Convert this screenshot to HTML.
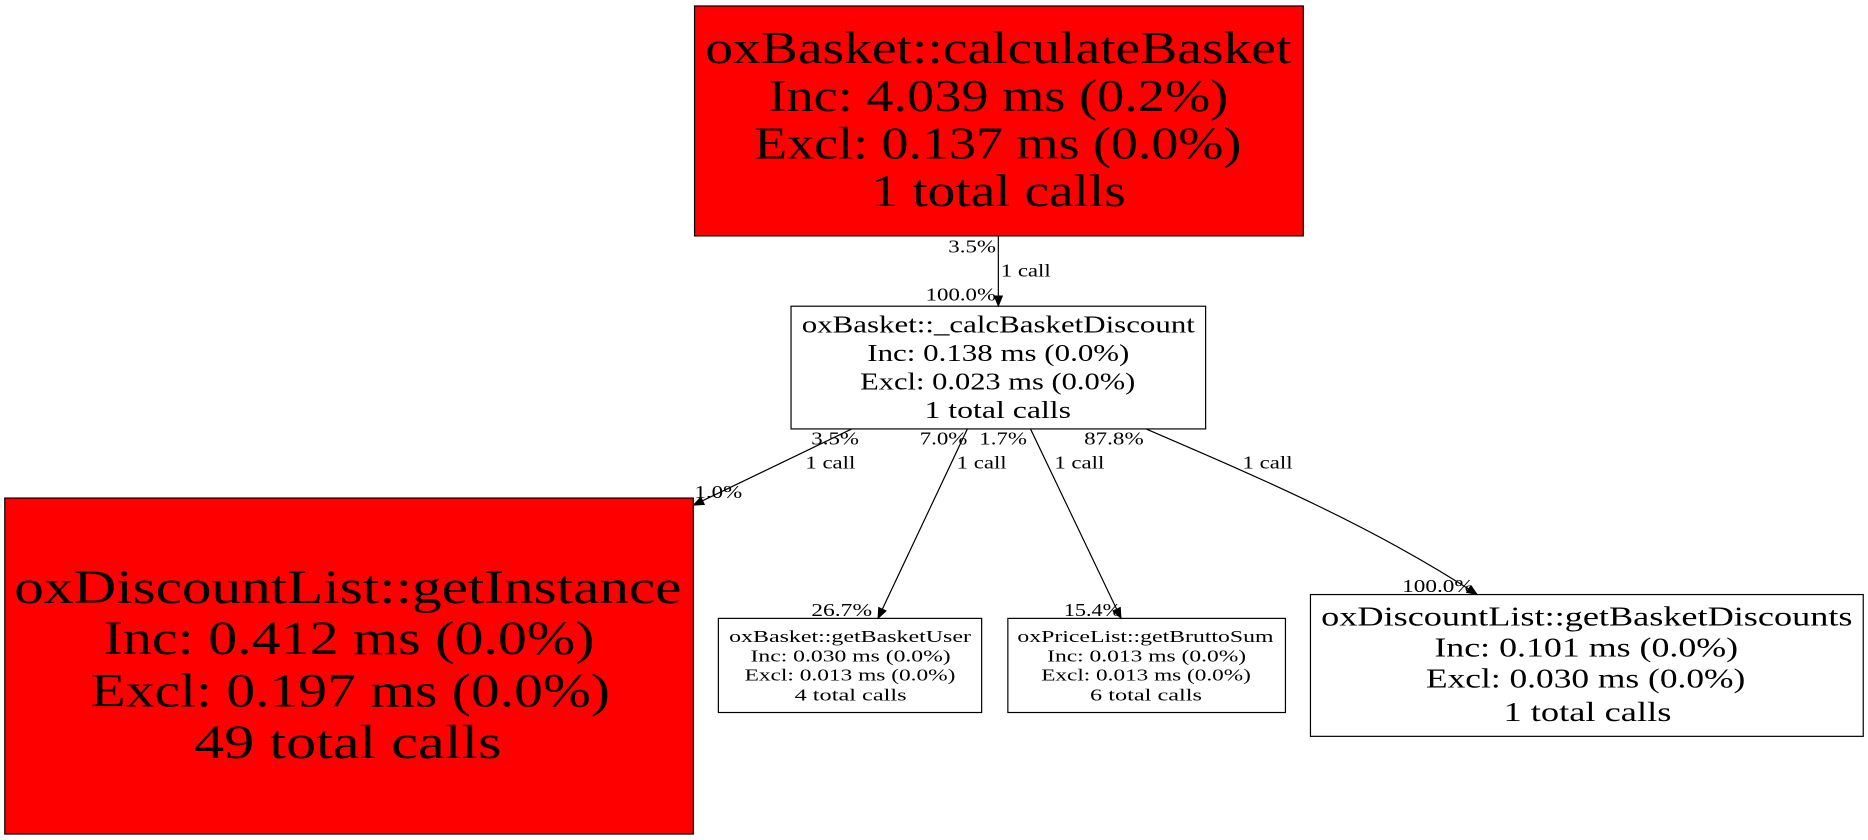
<!DOCTYPE html>
<html><head><meta charset="utf-8"><style>
html,body{margin:0;padding:0;background:#fff;width:1868px;height:840px;overflow:hidden}
svg{display:block}
text{font-family:"Liberation Serif",serif;fill:#000}
</style></head><body>
<svg width="1868" height="840" viewBox="0 0 1568 705" preserveAspectRatio="none">
<defs><marker id="a" markerWidth="10" markerHeight="8" refX="9" refY="4" orient="auto" markerUnits="userSpaceOnUse"><path d="M0,0 L10,4 L0,8 z" fill="#000"/></marker></defs>
<g lengthAdjust="spacingAndGlyphs">
<rect x="583" y="5" width="511" height="193" fill="#ff0000" stroke="#000"/>
<g font-size="38"><text x="592" y="53" textLength="492" lengthAdjust="spacingAndGlyphs">oxBasket::calculateBasket</text><text x="645" y="93" textLength="386" lengthAdjust="spacingAndGlyphs">Inc: 4.039 ms (0.2%)</text><text x="633" y="133" textLength="409" lengthAdjust="spacingAndGlyphs">Excl: 0.137 ms (0.0%)</text><text x="731" y="173" textLength="214" lengthAdjust="spacingAndGlyphs">1 total calls</text></g>
<rect x="664" y="257" width="348" height="103" fill="#fff" stroke="#000"/>
<g font-size="20"><text x="673" y="279" textLength="330" lengthAdjust="spacingAndGlyphs">oxBasket::_calcBasketDiscount</text><text x="728" y="303" textLength="220" lengthAdjust="spacingAndGlyphs">Inc: 0.138 ms (0.0%)</text><text x="722" y="327" textLength="231" lengthAdjust="spacingAndGlyphs">Excl: 0.023 ms (0.0%)</text><text x="776" y="351" textLength="123" lengthAdjust="spacingAndGlyphs">1 total calls</text></g>
<rect x="4" y="418" width="578" height="282" fill="#ff0000" stroke="#000"/>
<g font-size="40"><text x="12" y="506" textLength="560" lengthAdjust="spacingAndGlyphs">oxDiscountList::getInstance</text><text x="87" y="549" textLength="412" lengthAdjust="spacingAndGlyphs">Inc: 0.412 ms (0.0%)</text><text x="76" y="593" textLength="436" lengthAdjust="spacingAndGlyphs">Excl: 0.197 ms (0.0%)</text><text x="163" y="636" textLength="258" lengthAdjust="spacingAndGlyphs">49 total calls</text></g>
<rect x="603" y="519" width="221" height="79" fill="#fff" stroke="#000"/>
<g font-size="14"><text x="612" y="539" textLength="203" lengthAdjust="spacingAndGlyphs">oxBasket::getBasketUser</text><text x="630" y="555" textLength="168" lengthAdjust="spacingAndGlyphs">Inc: 0.030 ms (0.0%)</text><text x="625" y="571" textLength="177" lengthAdjust="spacingAndGlyphs">Excl: 0.013 ms (0.0%)</text><text x="667" y="588" textLength="94" lengthAdjust="spacingAndGlyphs">4 total calls</text></g>
<rect x="846" y="519" width="233" height="79" fill="#fff" stroke="#000"/>
<g font-size="14"><text x="854" y="539" textLength="215" lengthAdjust="spacingAndGlyphs">oxPriceList::getBruttoSum</text><text x="879" y="555" textLength="167" lengthAdjust="spacingAndGlyphs">Inc: 0.013 ms (0.0%)</text><text x="874" y="571" textLength="176" lengthAdjust="spacingAndGlyphs">Excl: 0.013 ms (0.0%)</text><text x="915" y="588" textLength="94" lengthAdjust="spacingAndGlyphs">6 total calls</text></g>
<rect x="1100" y="499" width="464" height="119" fill="#fff" stroke="#000"/>
<g font-size="23"><text x="1109" y="525" textLength="446" lengthAdjust="spacingAndGlyphs">oxDiscountList::getBasketDiscounts</text><text x="1204" y="551" textLength="255" lengthAdjust="spacingAndGlyphs">Inc: 0.101 ms (0.0%)</text><text x="1197" y="577" textLength="268" lengthAdjust="spacingAndGlyphs">Excl: 0.030 ms (0.0%)</text><text x="1262" y="605" textLength="141" lengthAdjust="spacingAndGlyphs">1 total calls</text></g>
</g>
<g stroke="#000" fill="none" marker-end="url(#a)">
<path d="M838,198 L838,257"/>
<path d="M715,360 L582,424"/>
<path d="M812,360 L737,519"/>
<path d="M865,360 L941,519"/>
<path d="M962,360 C1050,398 1150,440 1240,499"/>
</g>
<g font-size="15">
<text x="796" y="212" textLength="40" lengthAdjust="spacingAndGlyphs">3.5%</text><text x="840" y="232" textLength="42" lengthAdjust="spacingAndGlyphs">1 call</text><text x="777" y="252" textLength="59" lengthAdjust="spacingAndGlyphs">100.0%</text>
<text x="681" y="373" textLength="40" lengthAdjust="spacingAndGlyphs">3.5%</text><text x="676" y="393" textLength="42" lengthAdjust="spacingAndGlyphs">1 call</text><text x="583" y="418" textLength="40" lengthAdjust="spacingAndGlyphs">1.0%</text>
<text x="772" y="373" textLength="40" lengthAdjust="spacingAndGlyphs">7.0%</text><text x="803" y="393" textLength="42" lengthAdjust="spacingAndGlyphs">1 call</text><text x="681" y="517" textLength="51" lengthAdjust="spacingAndGlyphs">26.7%</text>
<text x="822" y="373" textLength="40" lengthAdjust="spacingAndGlyphs">1.7%</text><text x="885" y="393" textLength="42" lengthAdjust="spacingAndGlyphs">1 call</text><text x="893" y="517" textLength="48" lengthAdjust="spacingAndGlyphs">15.4%</text>
<text x="910" y="373" textLength="50" lengthAdjust="spacingAndGlyphs">87.8%</text><text x="1043" y="393" textLength="42" lengthAdjust="spacingAndGlyphs">1 call</text><text x="1177" y="497" textLength="60" lengthAdjust="spacingAndGlyphs">100.0%</text>
</g>
</svg>
</body></html>
